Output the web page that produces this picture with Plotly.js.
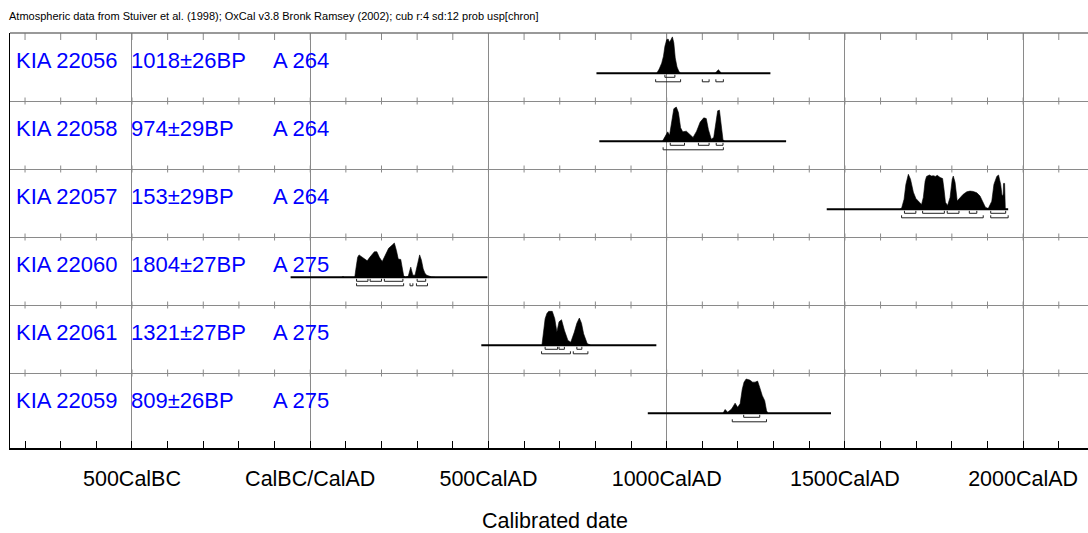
<!DOCTYPE html>
<html><head><meta charset="utf-8">
<script src="https://cdn.plot.ly/plotly-3.0.1.min.js"></script>
<style>html,body{margin:0;padding:0;overflow:hidden;background:#fff}#chart{width:1100px;height:533px}</style>
</head><body><div id="chart"></div>
<script>
// ---- data ----
const labIds = ["KIA 22056", "KIA 22058", "KIA 22057", "KIA 22060", "KIA 22061", "KIA 22059"];
const bpDates = ["1018±26BP", "974±29BP", "153±29BP", "1804±27BP", "1321±27BP", "809±26BP"];
const sampleIds = ["A 264", "A 264", "A 264", "A 275", "A 275", "A 275"];
const rangeStart = [803, 811, 1449, -55, 480, 947];
const rangeEnd = [1291, 1335, 1958, 497, 971, 1461];

const yearsKIA22056 = [972,979,986,991,995,1000,1004,1008,1012,1016,1020,1024,1029,1034,1039,1098,1104,1110,1117,1136,1141,1145,1149,1153];
const probKIA22056  = [0,0.12,0.29,0.49,0.77,0.96,0.98,0.89,0.96,1.04,0.87,0.44,0.18,0.06,0,0,0.02,0.02,0,0,0.06,0.1,0.06,0];
const yearsKIA22058 = [988,996,1003,1008,1015,1020,1027,1033,1039,1045,1055,1065,1074,1084,1094,1104,1111,1117,1125,1132,1138,1143,1148,1153,1158,1163];
const probKIA22058  = [0,0.15,0.27,0.17,0.63,0.93,0.98,0.82,0.39,0.27,0.29,0.2,0.11,0.29,0.55,0.67,0.65,0.34,0.06,0.11,0.53,0.87,0.89,0.44,0.04,0];
const yearsKIA22057 = [1654,1659,1666,1671,1678,1684,1692,1699,1709,1715,1720,1725,1729,1737,1743,1748,1754,1759,1767,1774,1778,1782,1788,1795,1801,1804,1809,1815,1823,1832,1842,1851,1860,1870,1879,1887,1894,1902,1912,1918,1926,1931,1937,1941,1944,1945,1948,1950];
const probKIA22057  = [0,0.03,0.29,0.71,1.0,0.86,0.49,0.31,0.2,0.14,0.34,0.8,0.94,0.98,0.95,0.96,0.94,0.97,0.91,0.88,0.57,0.2,0.11,0.34,0.86,0.95,0.77,0.24,0.33,0.43,0.5,0.52,0.51,0.47,0.38,0.2,0.06,0.02,0.23,0.71,0.94,0.98,0.71,0.37,0.43,0.74,0.74,0];
const yearsKIA22060 = [88,92,96,125,128,133,137,142,152,160,167,174,180,187,194,202,210,220,230,236,242,247,254,258,262,267,275,282,288,294,300,307,312,317,322,327,340,350];
const probKIA22060  = [0,0.02,0,0,0.23,0.57,0.64,0.6,0.54,0.47,0.57,0.66,0.73,0.73,0.57,0.45,0.62,0.83,0.92,0.98,0.76,0.52,0.51,0.23,0.05,0,0.03,0.29,0.06,0.06,0.34,0.64,0.49,0.24,0.11,0.06,0.01,0];
const yearsKIA22061 = [650,653,659,664,669,679,686,692,698,705,713,723,731,741,748,755,761,767,777,787];
const probKIA22061  = [0,0.23,0.76,0.91,0.97,0.97,0.76,0.38,0.67,0.73,0.43,0.14,0.09,0.38,0.63,0.78,0.63,0.33,0.05,0];
const yearsKIA22059 = [1158,1164,1171,1182,1192,1199,1206,1212,1217,1223,1233,1241,1248,1255,1261,1268,1275,1280,1284];
const probKIA22059  = [0,0.11,0.03,0.12,0.29,0.17,0.27,0.69,0.89,0.98,0.95,0.89,0.89,0.92,0.74,0.51,0.36,0.08,0];

const sigma1KIA22056 = [[995,1023]];
const sigma2KIA22056 = [[969,1039],[1100,1119],[1138,1159]];
const sigma1KIA22058 = [[1010,1050],[1089,1119],[1139,1158]];
const sigma2KIA22058 = [[990,1159]];
const sigma1KIA22057 = [[1667,1699],[1718,1779],[1787,1820],[1849,1870],[1909,1951]];
const sigma2KIA22057 = [[1659,1888],[1909,1958]];
const sigma1KIA22060 = [[130,162],[168,200],[208,260],[300,324]];
const sigma2KIA22060 = [[130,262],[280,288],[298,329]];
const sigma1KIA22061 = [[659,694],[698,713],[748,762]];
const sigma2KIA22061 = [[649,730],[738,779]];
const sigma1KIA22059 = [[1216,1261]];
const sigma2KIA22059 = [[1184,1280]];

const tickYears = [-500, 0, 500, 1000, 1500, 2000];
const tickLabels = ["500CalBC", "CalBC/CalAD", "500CalAD", "1000CalAD", "1500CalAD", "2000CalAD"];

const headerText = "Atmospheric data from Stuiver et al. (1998); OxCal v3.8 Bronk Ramsey (2002); cub r:4 sd:12 prob usp[chron]";
const axisTitle = "Calibrated date";

// ---- assembly ----
const distYears = [yearsKIA22056, yearsKIA22058, yearsKIA22057, yearsKIA22060, yearsKIA22061, yearsKIA22059];
const distProb = [probKIA22056, probKIA22058, probKIA22057, probKIA22060, probKIA22061, probKIA22059];
const sigma1 = [sigma1KIA22056, sigma1KIA22058, sigma1KIA22057, sigma1KIA22060, sigma1KIA22061, sigma1KIA22059];
const sigma2 = [sigma2KIA22056, sigma2KIA22058, sigma2KIA22057, sigma2KIA22060, sigma2KIA22061, sigma2KIA22059];

const FONT = '"Liberation Sans", Arial, sans-serif';
const ROW_PX = 68;
const PLOT_H = 415;
const Y_MAX = PLOT_H / ROW_PX;
const BASE_OFF = 40.3 / ROW_PX;
const PEAK = 35 / ROW_PX;
const S1_OFF = 4 / ROW_PX, S2_OFF = 8.5 / ROW_PX, BR_TICK = 2.5 / ROW_PX;
const GRID = '#8a8a8a';

const traces = [];
// minor tick marks on each row line
const tkX = [], tkY = [];
for (let r = 0; r <= 5; r++) {
  for (let yr = -800; yr <= 2200; yr += 100) {
    if (r === 0) { tkX.push(yr, yr, null); tkY.push(0, 7 / ROW_PX, null); }
    else { tkX.push(yr, yr, null); tkY.push(r - 3.5 / ROW_PX, r + 3.5 / ROW_PX, null); }
  }
}
traces.push({x: tkX, y: tkY, mode: 'lines', line: {color: GRID, width: 1}, hoverinfo: 'skip', showlegend: false});

const annotations = [];
labIds.forEach((id, i) => {
  const base = i + BASE_OFF;
  const yrs = distYears[i], p = distProb[i];
  const xs = [yrs[0]].concat(yrs, [yrs[yrs.length - 1]]);
  const ys = [base].concat(p.map(v => base - v * PEAK), [base]);
  traces.push({x: xs, y: ys, mode: 'lines', fill: 'toself', fillcolor: '#000', line: {color: '#000', width: 0.6}, hoverinfo: 'skip', showlegend: false, name: id});
  traces.push({x: [rangeStart[i], rangeEnd[i]], y: [base, base], mode: 'lines', line: {color: '#000', width: 2}, hoverinfo: 'skip', showlegend: false});
  const bx = [], by = [];
  [[sigma1[i], base + S1_OFF], [sigma2[i], base + S2_OFF]].forEach(([ranges, yl]) => {
    ranges.forEach(([a, b]) => { bx.push(a, a, b, b, null); by.push(yl - BR_TICK, yl, yl, yl - BR_TICK, null); });
  });
  traces.push({x: bx, y: by, mode: 'lines', line: {color: '#222', width: 1}, hoverinfo: 'skip', showlegend: false});
  const ly = i + 27.5 / ROW_PX;
  const f = {family: FONT, size: 22, color: '#0000ff'};
  annotations.push({x: -831, y: ly, xref: 'x', yref: 'y', text: id, showarrow: false, xanchor: 'left', yanchor: 'middle', font: f});
  annotations.push({x: -508, y: ly, xref: 'x', yref: 'y', text: bpDates[i], showarrow: false, xanchor: 'left', yanchor: 'middle', font: f});
  annotations.push({x: -110, y: ly, xref: 'x', yref: 'y', text: sampleIds[i], showarrow: false, xanchor: 'left', yanchor: 'middle', font: f});
});

const layout = {
  width: 1100, height: 533,
  margin: {l: 10, r: 0, t: 33, b: 85},
  paper_bgcolor: '#fff', plot_bgcolor: '#fff',
  showlegend: false,
  font: {family: FONT, color: '#000'},
  title: {text: headerText, x: 9 / 1100, xanchor: 'left', xref: 'container', y: 1 - 16 / 533, yanchor: 'middle', yref: 'container', font: {family: FONT, size: 11, color: '#000'}},
  xaxis: {
    range: [-842.2, 2215.6], tickmode: 'array', tickvals: tickYears, ticktext: tickLabels,
    showgrid: true, gridcolor: GRID, gridwidth: 1, zeroline: false,
    showline: true, linecolor: '#000', linewidth: 1.5,
    ticks: 'inside', ticklen: 7, tickcolor: '#000', tickwidth: 1,
    minor: {tickmode: 'linear', tick0: 0, dtick: 100, ticks: 'inside', ticklen: 7, tickcolor: '#000', tickwidth: 1, showgrid: false},
    tickfont: {family: FONT, size: 21.5, color: '#000'},
    ticklabelstandoff: 11,
    title: {text: axisTitle, font: {family: FONT, size: 21.5, color: '#000'}, standoff: 27},
    fixedrange: true
  },
  yaxis: {
    range: [Y_MAX, 0], tickmode: 'array', tickvals: [1, 2, 3, 4, 5],
    showgrid: true, gridcolor: GRID, gridwidth: 1, zeroline: false,
    showticklabels: false, ticks: '',
    showline: true, linecolor: '#000', linewidth: 1.5, fixedrange: true
  },
  shapes: [{type: 'line', xref: 'paper', yref: 'paper', x0: 0, x1: 1, y0: 1, y1: 1, line: {color: '#777', width: 1.5}}],
  annotations: annotations
};
Plotly.newPlot('chart', traces, layout, {displayModeBar: false, staticPlot: true});
</script></body></html>
